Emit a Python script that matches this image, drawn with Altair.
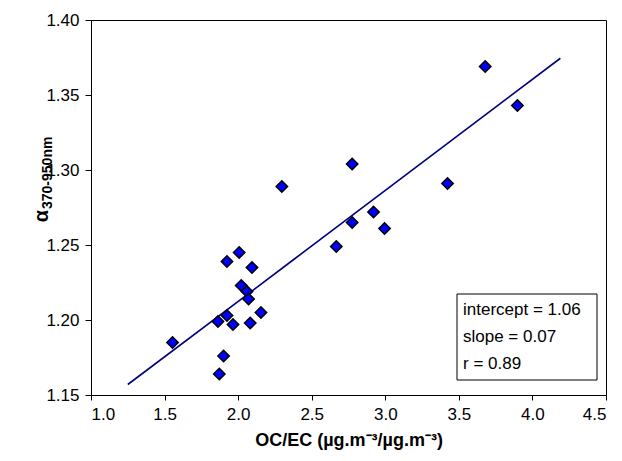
import altair as alt
import pandas as pd

# Data
oc_ec = [1.554, 1.924, 2.007, 2.094, 2.021, 2.060, 2.071, 2.155, 1.924, 1.863,
         1.965, 2.082, 1.901, 1.872, 2.297, 2.775, 2.775, 2.667, 2.920, 2.995,
         3.423, 3.679, 3.898]
alpha = [1.185, 1.239, 1.245, 1.235, 1.223, 1.219, 1.214, 1.205, 1.203, 1.199,
         1.197, 1.198, 1.176, 1.164, 1.289, 1.304, 1.265, 1.249, 1.272, 1.261,
         1.291, 1.369, 1.343]

fit_x = [1.25, 2.38, 4.19]
fit_y = [1.157, 1.2405, 1.3745]

x_ticks = [1.0, 1.5, 2.0, 2.5, 3.0, 3.5, 4.0, 4.5]
y_ticks = [1.15, 1.20, 1.25, 1.30, 1.35, 1.40]

stats_lines = ["intercept = 1.06", "slope = 0.07", "r = 0.89"]

pts = pd.DataFrame({"oc_ec": oc_ec, "alpha": alpha})
fit = pd.DataFrame({"oc_ec": fit_x, "alpha": fit_y})

FONT = "Liberation Sans"

xscale = alt.Scale(domain=[1.0, 4.5], nice=False, zero=False)
yscale = alt.Scale(domain=[1.15, 1.40], nice=False, zero=False)

x_enc = alt.X("oc_ec:Q", scale=xscale,
              axis=alt.Axis(values=x_ticks, format=".1f", grid=False,
                            title="OC/EC (µg.m⁻³/µg.m⁻³)",
                            titleFontSize=18, titleFontWeight="bold",
                            titlePadding=9, labelPadding=6, tickSize=5,
                            labelFontSize=17))
y_enc = alt.Y("alpha:Q", scale=yscale,
              axis=alt.Axis(values=y_ticks, format=".2f", grid=False,
                            title=None, labelPadding=6, tickSize=6,
                            labelFontSize=17))

line = alt.Chart(fit).mark_line(color="#000080", strokeWidth=1.6).encode(
    x=x_enc, y=y_enc)

points = alt.Chart(pts).mark_point(
    shape="diamond", filled=True, fill="#0000FF", stroke="black",
    strokeWidth=1.5, size=130, opacity=1).encode(
    x=alt.X("oc_ec:Q", scale=xscale), y=alt.Y("alpha:Q", scale=yscale))

one = alt.Data(values=[{}])

box = alt.Chart(one).mark_rect(fill="white", stroke="black", strokeWidth=1).encode(
    x=alt.value(366), x2=alt.value(506), y=alt.value(274), y2=alt.value(360))

stat_layers = []
for txt, ypos in zip(stats_lines, [290, 317, 344]):
    stat_layers.append(
        alt.Chart(one).mark_text(
            text=txt, align="left", baseline="middle", fontSize=17,
            font=FONT, color="black").encode(
            x=alt.value(372), y=alt.value(ypos)))

ytitle_a = alt.Chart(one).mark_text(
    text="α", angle=270, align="right", baseline="alphabetic",
    fontSize=20, fontWeight="bold", font=FONT, color="black").encode(
    x=alt.value(-43), y=alt.value(190))
ytitle_b = alt.Chart(one).mark_text(
    text="370-950nm", angle=270, align="left", baseline="alphabetic",
    fontSize=14, fontWeight="bold", font=FONT, color="black").encode(
    x=alt.value(-39), y=alt.value(189))

chart = alt.layer(line, points, box, *stat_layers, ytitle_a, ytitle_b).properties(
    width=515, height=375,
    autosize=alt.AutoSizeParams(type="none"),
    padding={"left": 83, "top": 12, "right": 8, "bottom": 58},
).configure_view(stroke="black", strokeWidth=1).configure_axis(
    domainColor="black", tickColor="black", labelColor="black",
    titleColor="black", labelFont=FONT, titleFont=FONT,
    domainWidth=1, tickWidth=1)

chart.save("out.html", embed_options={"renderer": "svg", "actions": False})
